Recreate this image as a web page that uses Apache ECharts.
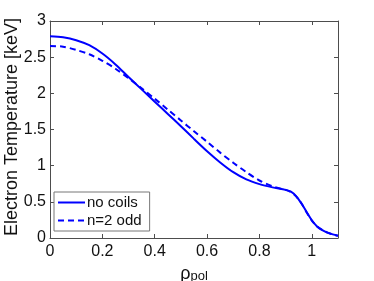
<!DOCTYPE html>
<html><head><meta charset="utf-8">
<script src="https://cdn.jsdelivr.net/npm/echarts@6/dist/echarts.min.js"></script>
<style>html,body{margin:0;padding:0;background:#fff}#c{width:374px;height:281px}</style>
</head><body><div id="c"></div>
<script>
const rho = [0,0.05,0.1,0.15,0.2,0.25,0.3,0.35,0.4,0.45,0.5,0.55,0.6,0.65,0.7,0.75,0.8,0.85,0.9,0.92,0.94,0.96,0.98,1.0,1.02,1.04,1.06,1.08,1.1];
const noCoils = [2.79,2.775,2.735,2.665,2.55,2.40,2.225,2.055,1.885,1.715,1.545,1.37,1.20,1.045,0.91,0.81,0.745,0.70,0.665,0.64,0.58,0.48,0.36,0.245,0.16,0.11,0.075,0.05,0.03];
const n2odd = [2.655,2.645,2.60,2.54,2.45,2.34,2.21,2.07,1.925,1.775,1.625,1.475,1.33,1.18,1.04,0.91,0.795,0.715,0.665,0.635,0.575,0.48,0.355,0.24,0.16,0.11,0.075,0.05,0.03];
const seriesNames = ['no coils','n=2 odd'];
const xTicks = {min:0, max:1.1, interval:0.2};
const yTicks = {min:0, max:3, interval:0.5};
const yTitle = 'Electron Temperature [keV]';

const font = '"Liberation Sans", Arial, Helvetica, sans-serif';
const axCol = '#4d4d4d';
const txtCol = '#111';
const pair = (xs, ys) => xs.map((x,i)=>[x, ys[i]]);
const baseAxis = {
  axisLine:{show:true, onZero:false, lineStyle:{color:axCol, width:1}},
  axisTick:{show:true, inside:true, length:4, lineStyle:{color:axCol}},
  splitLine:{show:false}
};
const chart = echarts.init(document.getElementById('c'), null, {renderer:'canvas'});
chart.setOption({
  animation:false,
  backgroundColor:'#fff',
  textStyle:{fontFamily:font},
  grid:{left:50, right:36, top:21, bottom:43, containLabel:false, outerBoundsMode:'none'},
  graphic:[
    {type:'text', x:12, y:127, rotation:Math.PI/2, z:10,
      style:{text:yTitle, fontSize:18, fontFamily:font, fill:txtCol, align:'center', verticalAlign:'middle'}}
  ],
  legend:{
    orient:'vertical', left:54, top:192,
    data:seriesNames,
    itemWidth:27, itemHeight:10, itemGap:3,
    backgroundColor:'#fff', borderColor:'#777', borderWidth:1,
    padding:[3,8,3,3],
    itemStyle:{color:'transparent', borderColor:'transparent', borderWidth:0},
    textStyle:{fontFamily:font, fontSize:15, color:txtCol, padding:[0,0,0,-3]}
  },
  xAxis:[
    Object.assign({type:'value', position:'bottom', min:xTicks.min, max:xTicks.max, interval:xTicks.interval,
      axisLabel:{show:true, showMaxLabel:false, margin:6, fontSize:16, color:txtCol, fontFamily:font},
      name:'{a|ρ}{b|pol}', nameLocation:'middle', nameGap:18,
      nameTextStyle:{rich:{a:{fontSize:18, color:txtCol, fontFamily:font}, b:{fontSize:13, color:txtCol, fontFamily:font, padding:[6,0,0,0]}}}
    }, baseAxis),
    Object.assign({type:'value', position:'top', min:xTicks.min, max:xTicks.max, interval:xTicks.interval,
      axisLabel:{show:false}}, baseAxis)
  ],
  yAxis:[
    Object.assign({type:'value', position:'left', min:yTicks.min, max:yTicks.max, interval:yTicks.interval,
      axisLabel:{show:true, margin:4, fontSize:16, color:txtCol, fontFamily:font}
    }, baseAxis),
    Object.assign({type:'value', position:'right', min:yTicks.min, max:yTicks.max, interval:yTicks.interval,
      axisLabel:{show:false}}, baseAxis)
  ],
  series:[
    {name:seriesNames[0], type:'line', xAxisIndex:0, yAxisIndex:0, data:pair(rho,noCoils), showSymbol:false, symbol:'none',
      smooth:0.3, lineStyle:{color:'#0000ff', width:2, type:'solid'}, itemStyle:{color:'#0000ff'}},
    {name:seriesNames[1], type:'line', xAxisIndex:0, yAxisIndex:0, data:pair(rho,n2odd), showSymbol:false, symbol:'none',
      smooth:0.3, lineStyle:{color:'#0000ff', width:2, type:[6,4]}, itemStyle:{color:'#0000ff'}}
  ]
});
</script></body></html>
